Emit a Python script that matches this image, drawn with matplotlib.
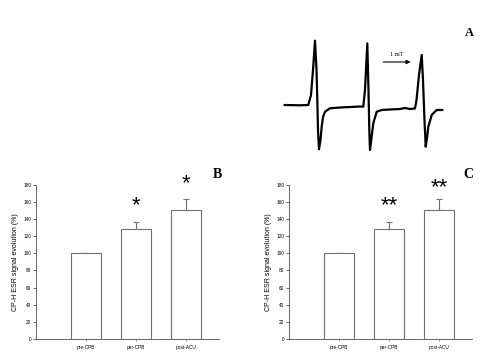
import matplotlib.pyplot as plt

# ESR spectrum (panel A)
field_mT = [0, 0.464, 0.715, 0.797, 0.858, 0.918, 0.964, 0.988, 1.009, 1.039, 1.085, 1.121,
            1.161, 1.221, 1.373, 1.676, 1.979, 2.282, 2.382, 2.433, 2.503, 2.539, 2.564, 2.585,
            2.630, 2.685, 2.788, 2.939, 3.191, 3.494, 3.645, 3.797, 3.948, 3.994, 4.070, 4.152,
            4.191, 4.236, 4.273, 4.312, 4.352, 4.455, 4.606, 4.776]
signal = [0, -0.3, 0, 10, 35, 64.3, 35, 5, -25, -44.3, -35, -21.7,
          -12, -6.7, -3.3, -2.5, -2, -1.5, -1.7, 15, 61.7, 15, -25, -45,
          -33, -18.3, -6.7, -5, -4.5, -4, -3, -4, -3.5, 5, 30, 50,
          25, -15, -41.7, -33, -21.7, -10, -5, -5]

# bar panels B and C
groups = ['pre-CPB', 'per-CPB', 'post-ACU']
means = [100, 128, 151]
errs = [0, 8, 12]
stars_B = ['', '*', '*']
stars_C = ['', '**', '**']
star_y_B = [0, 156, 181]
star_y_C = [0, 156, 177]

fig = plt.figure(figsize=(5, 3.62), dpi=100)

## Panel A
axA = fig.add_axes([284.7/500, (362-150)/362, 157.6/500, 109.3/362])
axA.plot(field_mT, signal, color='black', lw=1.6, clip_on=False)
axA.set_xlim(0, 4.776)
axA.set_ylim(-45, 64.3)
axA.axis('off')
axA.annotate('', xy=(3.9, 43), xytext=(2.9, 43),
             arrowprops=dict(arrowstyle='-|>', color='black', lw=0.8, mutation_scale=6))
axA.text(3.4, 48, '1 mT', fontsize=4.5, family='Liberation Serif', ha='center', va='bottom')
fig.text(469/500, 1-33/362, 'A', fontsize=9, fontweight='bold', family='Liberation Serif',
         ha='center', va='center')


def bar_panel(left, stars, star_y, letter, letter_x):
    ax = fig.add_axes([left/500, (362-339)/362, 183/500, 154.3/362])
    x = [1, 2, 3]
    ax.bar(x, means, width=0.6, color='white', edgecolor='#707070', lw=0.8, zorder=2)
    ax.errorbar(x, means, yerr=[[0, 0, 0], errs], fmt='none', ecolor='#707070',
                elinewidth=0.8, capsize=2.5, capthick=0.8, zorder=1)
    for xi, s, sy in zip(x, stars, star_y):
        if s:
            ax.text(xi, sy, s, fontsize=16, family='Liberation Sans', ha='center', va='center')
    ax.set_xlim(0, 3.66)
    ax.set_ylim(0, 180)
    ax.set_yticks(range(0, 181, 20))
    ax.set_xticks(x)
    ax.set_xticklabels(groups)
    ax.tick_params(axis='x', length=1.2, width=0.5, pad=3, labelsize=3.4, color='#707070')
    ax.tick_params(axis='y', length=2, width=0.6, pad=1.5, labelsize=3.4, color='#505050')
    for lab in ax.get_xticklabels() + ax.get_yticklabels():
        lab.set_family('Liberation Sans')
    ax.spines['top'].set_visible(False)
    ax.spines['right'].set_visible(False)
    ax.spines['left'].set_linewidth(0.6)
    ax.spines['bottom'].set_linewidth(0.6)
    ax.spines['left'].set_color('#505050')
    ax.spines['bottom'].set_color('#505050')
    ax.set_ylabel('CP-H ESR signal evolution (%)', fontsize=5, family='Liberation Sans', labelpad=3)
    fig.text(letter_x/500, 1-175/362, letter, fontsize=10, fontweight='bold',
             family='Liberation Serif', ha='center', va='center')
    return ax


bar_panel(36, stars_B, star_y_B, 'B', 217)
bar_panel(289, stars_C, star_y_C, 'C', 468)

fig.savefig('out.png', dpi=100)
